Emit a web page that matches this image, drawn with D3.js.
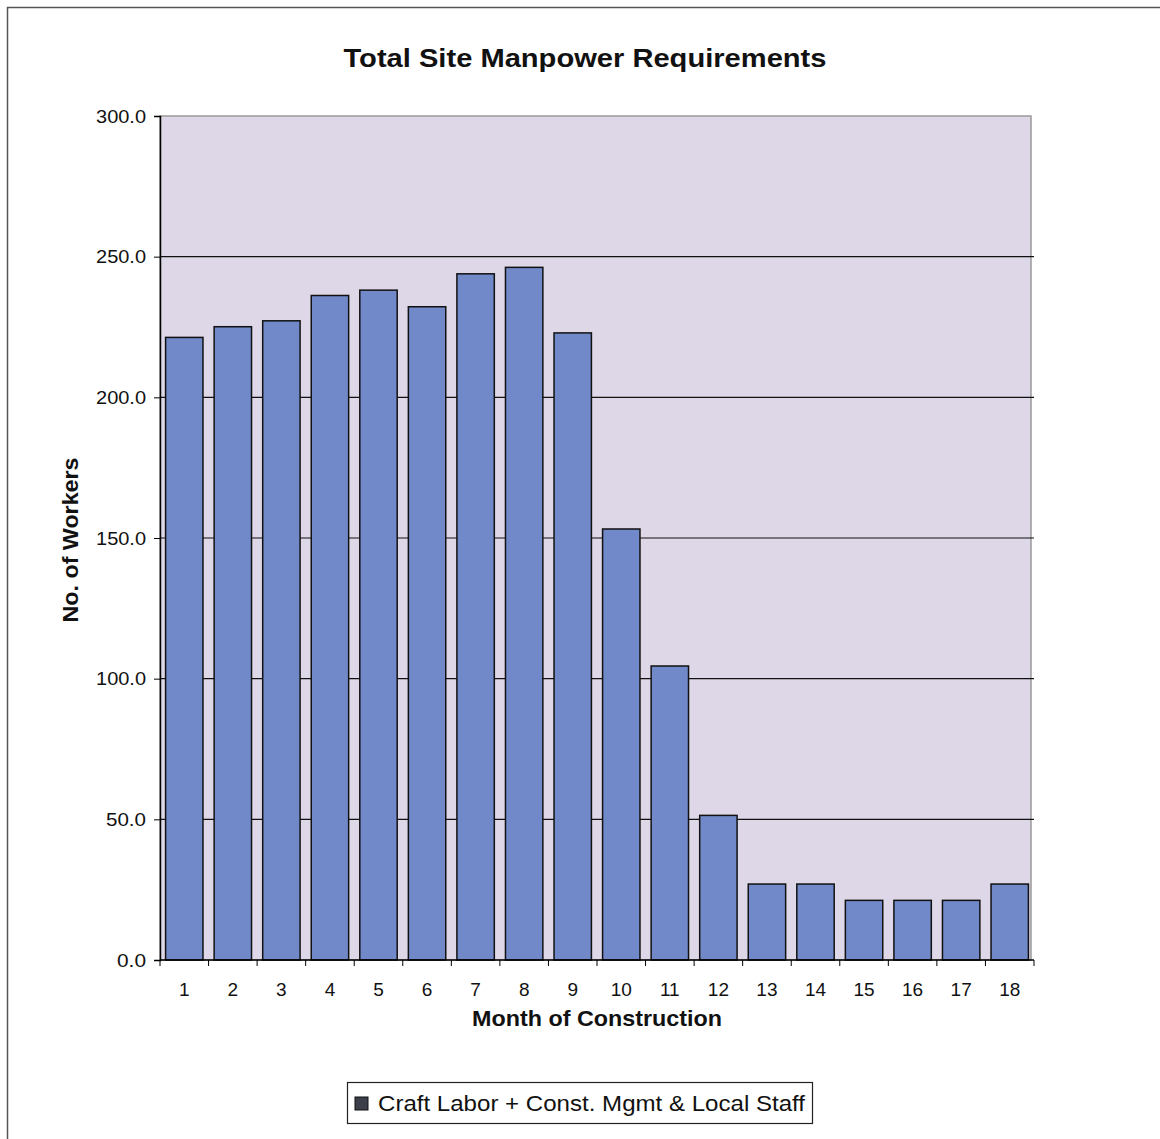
<!DOCTYPE html>
<html>
<head>
<meta charset="utf-8">
<script src="https://cdn.jsdelivr.net/npm/d3@7/dist/d3.min.js"></script>
<style>
  html, body { margin: 0; padding: 0; background: #ffffff; }
  svg { display: block; font-family: Arial, "Liberation Sans", sans-serif; }
</style>
</head>
<body>
<svg id="chart" width="1160" height="1139"></svg>
<script>
// Monthly site manpower
const months = ["1","2","3","4","5","6","7","8","9","10","11","12","13","14","15","16","17","18"];
const workers = [221.3, 225.1, 227.2, 236.2, 238.1, 232.2, 243.9, 246.2, 222.9, 153.2, 104.5, 51.4, 27.0, 27.0, 21.2, 21.2, 21.2, 27.0];
const yTicks = [0, 50, 100, 150, 200, 250, 300];
const seriesName = "Craft Labor + Const. Mgmt & Local Staff";

const svg = d3.select("#chart");
const plot = { left: 160, top: 116, right: 1034, bottom: 960 };

// outer chart frame (runs off the right/bottom edge)
svg.append("rect")
  .attr("x", 7.5).attr("y", 7.5).attr("width", 1200).attr("height", 1200)
  .attr("fill", "#ffffff").attr("stroke", "#555").attr("stroke-width", 1.5);

const x = d3.scaleBand().domain(months).range([plot.left, plot.right]).paddingInner(0.23).paddingOuter(0.115);
const xEdge = d3.scaleBand().domain(months).range([plot.left, plot.right]).padding(0);
const y = d3.scaleLinear().domain([0, 300]).range([plot.bottom, plot.top]);

// plot area
svg.append("rect")
  .attr("x", plot.left).attr("y", plot.top)
  .attr("width", plot.right - plot.left - 3).attr("height", plot.bottom - plot.top)
  .attr("fill", "#ddd7e7").attr("stroke", "#9a9a9a").attr("stroke-width", 1.5);

// gridlines
svg.append("g").selectAll("line")
  .data(yTicks.filter(t => t > 0 && t < 300))
  .join("line")
  .attr("x1", plot.left).attr("x2", plot.right)
  .attr("y1", d => y(d)).attr("y2", d => y(d))
  .attr("stroke", "#111").attr("stroke-width", 1.2);

// bars
svg.append("g").selectAll("rect")
  .data(workers)
  .join("rect")
  .attr("x", (d, i) => x(months[i]))
  .attr("y", d => y(d))
  .attr("width", x.bandwidth())
  .attr("height", d => y(0) - y(d))
  .attr("fill", "#7189c9")
  .attr("stroke", "#111").attr("stroke-width", 1.5);

// y axis
const yAxis = d3.axisLeft(y).tickValues(yTicks).tickFormat(d3.format(".1f")).tickSize(6).tickPadding(8);
const gy = svg.append("g").attr("transform", `translate(${plot.left},0)`).call(yAxis);
gy.select(".domain").attr("stroke", "#000").attr("stroke-width", 1.5);
gy.selectAll(".tick line").attr("stroke", "#000");
gy.selectAll(".tick text").attr("font-size", 19).attr("fill", "#111")
  .attr("font-family", "Arial, 'Liberation Sans', sans-serif")
  .attr("textLength", 50).attr("lengthAdjust", "spacingAndGlyphs");
gy.selectAll(".tick text").filter(d => d < 100).attr("textLength", 40);
gy.selectAll(".tick text").filter(d => d === 0).attr("textLength", 29);

// x axis: ticks between categories
const gx = svg.append("g").attr("transform", `translate(0,${plot.bottom})`);
gx.append("line").attr("x1", plot.left).attr("x2", plot.right).attr("stroke", "#000").attr("stroke-width", 1.5);
gx.selectAll("line.tk")
  .data(months.concat(["end"]))
  .join("line").attr("class", "tk")
  .attr("x1", (d, i) => i < months.length ? xEdge(d) : plot.right)
  .attr("x2", (d, i) => i < months.length ? xEdge(d) : plot.right)
  .attr("y1", 0).attr("y2", 6).attr("stroke", "#000");
gx.selectAll("text")
  .data(months)
  .join("text")
  .attr("x", d => xEdge(d) + xEdge.bandwidth() / 2)
  .attr("y", 36)
  .attr("text-anchor", "middle")
  .attr("font-size", 19).attr("fill", "#111")
  .text(d => d);

// titles
svg.append("text")
  .attr("x", 585).attr("y", 67).attr("text-anchor", "middle")
  .attr("font-size", 25).attr("font-weight", "bold").attr("fill", "#111")
  .attr("textLength", 483).attr("lengthAdjust", "spacingAndGlyphs")
  .text("Total Site Manpower Requirements");

svg.append("text")
  .attr("x", 597).attr("y", 1026).attr("text-anchor", "middle")
  .attr("font-size", 22).attr("font-weight", "bold").attr("fill", "#111")
  .attr("textLength", 250).attr("lengthAdjust", "spacingAndGlyphs")
  .text("Month of Construction");

svg.append("text")
  .attr("transform", "translate(78,540) rotate(-90)").attr("text-anchor", "middle")
  .attr("font-size", 22).attr("font-weight", "bold").attr("fill", "#111")
  .attr("textLength", 165).attr("lengthAdjust", "spacingAndGlyphs")
  .text("No. of Workers");

// legend
const lg = svg.append("g");
lg.append("rect").attr("x", 347.5).attr("y", 1082.5).attr("width", 465).attr("height", 41)
  .attr("fill", "#fff").attr("stroke", "#222").attr("stroke-width", 1.2);
lg.append("rect").attr("x", 355).attr("y", 1097).attr("width", 13).attr("height", 13)
  .attr("fill", "#3c3f4a").attr("stroke", "#111");
lg.append("text").attr("x", 378).attr("y", 1111)
  .attr("font-size", 22).attr("fill", "#111")
  .attr("textLength", 427).attr("lengthAdjust", "spacingAndGlyphs")
  .text(seriesName);
</script>
</body>
</html>
